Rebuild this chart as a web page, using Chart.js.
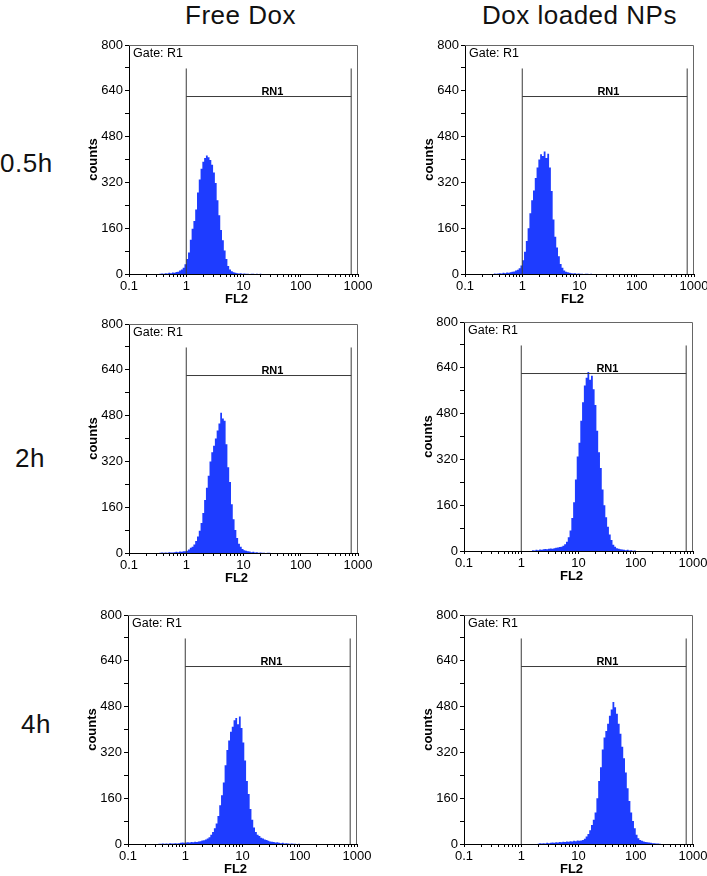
<!DOCTYPE html>
<html>
<head>
<meta charset="utf-8">
<script src="https://cdn.jsdelivr.net/npm/chart.js@4.4.0/dist/chart.umd.min.js"></script>
<style>
  html, body { margin: 0; padding: 0; background: #fff; overflow: hidden; }
  #page { position: relative; width: 707px; height: 876px; overflow: hidden;
          font-family: "Liberation Sans", Arial, sans-serif; }
  .label { position: absolute; font-size: 26px; line-height: 26px; color: #111;
           white-space: nowrap; letter-spacing: 0.5px; }
  canvas { position: absolute; }
</style>
</head>
<body>
<div id="page"></div>
<script>
// histogram channels are 1/32 decade wide, channel 0 starts at FL2 = 0.1
const binsPerDecade = 32;
const xDecades = [0.1, 1, 10, 100, 1000];
const yTicks = [0, 160, 320, 480, 640, 800];
const columnTitles = ['Free Dox', 'Dox loaded NPs'];
const rowLabels = ['0.5h', '2h', '4h'];
const gateName = 'Gate: R1';
const markerName = 'RN1';
const markerLabelAt = 32;
const gateEnds = [1, 760];
const gateTop = 718;
const gateLevel = 620;

// Free Dox, 0.5h
const freeDox05hStart = 16;
const freeDox05hCounts = [
    1, 0, 1, 2, 1, 3, 2, 4, 3, 5, 4, 7, 8, 12, 16, 22,
    34, 52, 75, 120, 158, 185, 225, 285, 330, 368, 392, 405, 414, 408, 398, 382,
    355, 318, 258, 205, 154, 118, 82, 52, 28, 16, 10, 6, 4, 3, 2, 3,
    1, 2, 1, 1, 0, 1, 1, 0, 1, 0, 1, 0
];
// Dox loaded NPs, 0.5h
const nps05hStart = 16;
const nps05hCounts = [
    1, 2, 1, 2, 3, 2, 4, 3, 5, 4, 6, 8, 9, 12, 15, 20,
    30, 48, 78, 115, 160, 212, 258, 292, 335, 372, 400, 418, 412, 428, 405, 420,
    372, 290, 190, 130, 93, 62, 35, 22, 12, 8, 6, 4, 3, 2, 3, 1,
    2, 1, 1, 0, 1, 1, 0, 1
];
// Free Dox, 2h
const freeDox2hStart = 16;
const freeDox2hCounts = [
    1, 0, 1, 2, 1, 2, 1, 3, 2, 2, 3, 4, 3, 5, 4, 6,
    6, 8, 12, 18, 22, 30, 42, 58, 78, 105, 140, 185, 228, 270, 320, 352,
    375, 400, 428, 452, 490, 470, 462, 380, 300, 248, 170, 118, 80, 52, 32, 22,
    14, 10, 8, 6, 5, 3, 4, 2, 3, 1, 2, 1, 1, 0, 1, 1
];
// Dox loaded NPs, 2h
const nps2hStart = 38;
const nps2hCounts = [
    1, 3, 2, 4, 3, 5, 4, 6, 7, 6, 8, 9, 8, 10, 11, 12, 14, 15, 18, 24, 32, 48, 72, 115, 170, 250,
    330, 378, 455, 520, 578, 605, 625, 598, 612, 565, 510, 420, 345, 290, 215, 160,
    118, 85, 58, 38, 22, 15, 10, 8, 6, 5, 4, 3, 4, 2, 3, 1, 2
];
// Free Dox, 4h
const freeDox4hStart = 16;
const freeDox4hCounts = [
    1, 0, 1, 1, 2, 1, 2, 1, 3, 2, 2, 3, 2, 3, 4, 5,
    4, 5, 6, 5, 7, 6, 8, 7, 9, 10, 12, 13, 16, 19, 24, 32,
    42, 55, 72, 98, 135, 170, 215, 275, 328, 362, 392, 410, 432, 440, 418, 445,
    405, 355, 292, 220, 175, 122, 85, 58, 42, 32, 28, 22, 19, 16, 14, 11,
    9, 8, 7, 5, 6, 4, 3, 4, 2, 3, 2, 1, 2, 1, 1, 0, 1
];
// Dox loaded NPs, 4h
const nps4hStart = 41;
const nps4hCounts = [
    2, 1, 3, 2, 3, 2, 4, 3, 4, 5, 4, 6, 5, 7, 6, 8, 7, 9, 8, 10, 9, 11, 10, 12, 11, 12, 14,
    18, 26, 35, 48, 66, 85, 110, 160, 220, 268, 330, 372, 395, 420, 448, 470, 496, 478, 455,
    420, 385, 340, 300, 250, 195, 150, 110, 80, 55, 32, 20, 14, 11, 9, 7, 6, 5, 4, 3, 3, 2, 2, 1
];

const panels = [
    { start: freeDox05hStart, counts: freeDox05hCounts },
    { start: nps05hStart, counts: nps05hCounts },
    { start: freeDox2hStart, counts: freeDox2hCounts },
    { start: nps2hStart, counts: nps2hCounts },
    { start: freeDox4hStart, counts: freeDox4hCounts },
    { start: nps4hStart, counts: nps4hCounts },
];

// layout: top-left corner of each plot area on the page
const plotOrigins = [[129, 45], [465, 45], [129, 324], [464, 322], [128, 615], [464, 615]];
const plotSize = 229;
const axisWidth = 49, axisHeight = 41, padTop = 15, padRight = 22;
const fontFamily = '"Liberation Sans", Arial, sans-serif';
const histColor = '#1e3cff';
const gateColor = '#3a3a3a';

Chart.defaults.font.family = fontFamily;
Chart.defaults.color = '#000';

const channelToFL2 = ch => 0.1 * Math.pow(10, ch / binsPerDecade);

// left edges of each channel, closed by a zero at the right edge of the last one
const histogramPoints = (start, counts) => {
    const pts = counts.map((n, i) => ({ x: channelToFL2(start + i), y: n }));
    pts.push({ x: channelToFL2(start + counts.length), y: 0 });
    return pts;
};

const gateLine = (points) => ({
    data: points,
    borderColor: gateColor,
    borderWidth: 1,
    pointRadius: 0,
    fill: false,
    order: 1,
});

// frame, gate name, marker name and the x title (the title sits a little left of centre)
const panelDecor = {
    id: 'panelDecor',
    afterDatasetsDraw(chart) {
        const { ctx, chartArea: a, scales: { x, y } } = chart;
        ctx.save();
        ctx.strokeStyle = '#666';
        ctx.lineWidth = 1;
        ctx.beginPath();
        ctx.moveTo(a.left, a.top + 0.5);
        ctx.lineTo(a.right - 0.5, a.top + 0.5);
        ctx.lineTo(a.right - 0.5, a.bottom);
        ctx.stroke();

        ctx.fillStyle = '#000';
        ctx.font = '12.5px ' + fontFamily;
        ctx.textAlign = 'left';
        ctx.textBaseline = 'middle';
        ctx.fillText(gateName, a.left + 4, a.top + 9);

        ctx.font = 'bold 11px ' + fontFamily;
        ctx.textAlign = 'center';
        ctx.textBaseline = 'alphabetic';
        ctx.fillText(markerName, x.getPixelForValue(markerLabelAt), y.getPixelForValue(gateLevel) - 1.5);

        ctx.font = 'bold 13px ' + fontFamily;
        ctx.textBaseline = 'middle';
        ctx.fillText('FL2', (a.left + a.right) / 2 - 7, a.bottom + 25.5);
        ctx.restore();
    }
};

const buildPanel = (panel, index) => {
    const [left, top] = plotOrigins[index];
    const canvas = document.createElement('canvas');
    canvas.width = axisWidth + plotSize + padRight;
    canvas.height = padTop + plotSize + axisHeight;
    canvas.style.left = (left - axisWidth) + 'px';
    canvas.style.top = (top - padTop) + 'px';
    document.getElementById('page').appendChild(canvas);

    new Chart(canvas, {
        type: 'line',
        data: {
            datasets: [
                gateLine([{ x: gateEnds[0], y: 0 }, { x: gateEnds[0], y: gateTop }]),
                gateLine([{ x: gateEnds[1], y: 0 }, { x: gateEnds[1], y: gateTop }]),
                gateLine([{ x: gateEnds[0], y: gateLevel }, { x: gateEnds[1], y: gateLevel }]),
                {
                    data: histogramPoints(panel.start, panel.counts),
                    stepped: 'after',
                    fill: 'origin',
                    backgroundColor: histColor,
                    borderWidth: 0,
                    pointRadius: 0,
                    order: 2,
                }
            ]
        },
        options: {
            responsive: false,
            animation: false,
            layout: { padding: { left: 0, top: padTop, right: padRight, bottom: 0 } },
            plugins: { legend: { display: false }, tooltip: { enabled: false } },
            scales: {
                x: {
                    type: 'logarithmic',
                    min: 0.1,
                    max: 1000,
                    z: 1,
                    afterFit: scale => { scale.height = axisHeight; },
                    afterBuildTicks: scale => {
                        const ticks = [];
                        xDecades.forEach((d, i) => {
                            ticks.push({ value: d, major: true });
                            if (i < xDecades.length - 1)
                                for (let k = 2; k <= 9; k++) ticks.push({ value: d * k });
                        });
                        scale.ticks = ticks;
                    },
                    ticks: {
                        autoSkip: false,
                        maxRotation: 0,
                        padding: 2,
                        font: { size: 13 },
                        color: '#000',
                        callback: value => xDecades.includes(value) ? String(value) : ''
                    },
                    grid: { drawOnChartArea: false, drawTicks: true, tickLength: 3, color: '#000' },
                    border: { color: '#000', width: 1 },
                    title: { display: false }
                },
                y: {
                    min: 0,
                    max: 800,
                    z: 1,
                    afterFit: scale => { scale.width = axisWidth; },
                    afterBuildTicks: scale => {
                        const ticks = [];
                        yTicks.forEach((v, i) => {
                            ticks.push({ value: v });
                            if (i < yTicks.length - 1) ticks.push({ value: (v + yTicks[i + 1]) / 2 });
                        });
                        scale.ticks = ticks;
                    },
                    ticks: {
                        autoSkip: false,
                        padding: 2,
                        font: { size: 13 },
                        color: '#000',
                        callback: value => yTicks.includes(value) ? String(value) : ''
                    },
                    grid: { drawOnChartArea: false, drawTicks: true, tickLength: 4, color: '#000' },
                    border: { color: '#000', width: 1 },
                    title: {
                        display: true,
                        text: 'counts',
                        font: { size: 13, weight: 'bold' },
                        color: '#000',
                        padding: { top: 6, bottom: 0 }
                    }
                }
            }
        },
        plugins: [panelDecor]
    });
};

const addLabel = (text, left, top) => {
    const div = document.createElement('div');
    div.className = 'label';
    div.textContent = text;
    div.style.left = left + 'px';
    div.style.top = top + 'px';
    document.getElementById('page').appendChild(div);
};

// page text: column titles and row labels
const titlePositions = [[185, 2], [482, 2]];
const rowPositions = [[0, 150], [15, 445], [21, 711]];
columnTitles.forEach((t, i) => addLabel(t, titlePositions[i][0], titlePositions[i][1]));
rowLabels.forEach((t, i) => addLabel(t, rowPositions[i][0], rowPositions[i][1]));

panels.forEach(buildPanel);
</script>
</body>
</html>
